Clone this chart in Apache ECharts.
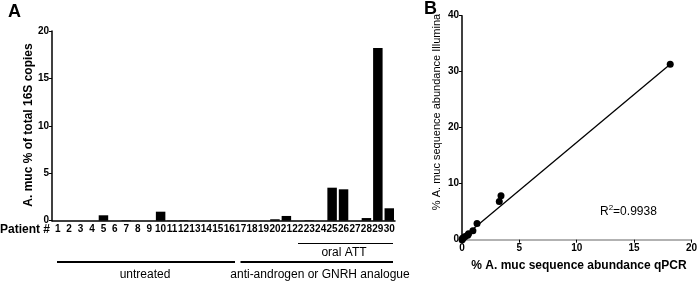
<!DOCTYPE html>
<html><head><meta charset="utf-8">
<script src="https://cdn.jsdelivr.net/npm/echarts@6/dist/echarts.min.js"></script>
<style>html,body{margin:0;padding:0;background:#fff}#c{width:700px;height:284px}</style>
</head><body><div id="c"></div>
<script>
const patients = ['1','2','3','4','5','6','7','8','9','10','11','12','13','14','15','16','17','18','19','20','21','22','23','24','25','26','27','28','29','30'];
const amucPct = [0,0,0,0,0.57,0,0.05,0,0,0.95,0.03,0.05,0,0,0,0,0,0,0,0.15,0.5,0,0.05,0,3.48,3.31,0,0.28,18.2,1.31];
const yTicksA = [0,5,10,15,20];
const qpcr     = [0,0.03,0.05,0.15,0.28,0.5,0.57,0.95,1.31,3.25,3.4,18.15];
const illumina = [0,0.1,0.25,0.4,0.55,0.8,1.05,1.6,2.9,6.8,7.85,31.35];
const fitLine  = [[0,0.25],[18.15,31.35]];
const FONT = '"Liberation Sans", Arial, sans-serif';

const chart = echarts.init(document.getElementById('c'), null, {renderer:'canvas'});
const lbl = {fontFamily: FONT, fontWeight:'bold', fontSize:10, color:'#000'};
chart.setOption({
  animation:false,
  backgroundColor:'#fff',
  grid:[
    {left:52, top:31, width:343, height:189.7},
    {left:462, top:15.7, width:230.3, height:224}
  ],
  xAxis:[
    {gridIndex:0, type:'category', data:patients, boundaryGap:true,
     axisLine:{lineStyle:{color:'#000', width:1.5}},
     axisTick:{alignWithLabel:true, length:4, lineStyle:{color:'#000', width:1}},
     axisLabel:Object.assign({interval:0, margin:4}, lbl)},
    {gridIndex:1, type:'value', min:0, max:20, interval:5,
     axisLine:{lineStyle:{color:'#999', width:1.5}},
     axisTick:{length:3, lineStyle:{color:'#000'}},
     axisLabel:Object.assign({margin:4}, lbl),
     splitLine:{show:false}}
  ],
  yAxis:[
    {gridIndex:0, type:'value', min:yTicksA[0], max:yTicksA[yTicksA.length-1], interval:5,
     axisLine:{show:true, lineStyle:{color:'#000', width:1.5}},
     axisTick:{show:true, length:3, lineStyle:{color:'#000'}},
     axisLabel:Object.assign({margin:3}, lbl),
     splitLine:{show:false}},
    {gridIndex:1, type:'value', min:0, max:40, interval:10,
     axisLine:{show:true, lineStyle:{color:'#000', width:1.5}},
     axisTick:{show:true, length:3, lineStyle:{color:'#000'}},
     axisLabel:Object.assign({margin:3}, lbl),
     splitLine:{show:false}}
  ],
  series:[
    {type:'bar', xAxisIndex:0, yAxisIndex:0, data:amucPct, barWidth:'83%',
     itemStyle:{color:'#000'}},
    {type:'line', xAxisIndex:1, yAxisIndex:1, data:fitLine, symbol:'none',
     lineStyle:{color:'#000', width:1.3}, z:2},
    {type:'scatter', xAxisIndex:1, yAxisIndex:1, clip:false,
     data:qpcr.map((x,i)=>[x, illumina[i]]), symbolSize:7,
     itemStyle:{color:'#000', opacity:1}, z:3}
  ],
  graphic:[
    {type:'text', left:8, top:3, style:{text:'A', font:'bold 18px '+FONT, fill:'#000'}},
    {type:'text', left:424, top:0, style:{text:'B', font:'bold 18px '+FONT, fill:'#000'}},
    {type:'text', x:29, y:125, rotation:Math.PI/2,
     style:{text:'A. muc % of total 16S copies', font:'bold 12px '+FONT, fill:'#000', align:'center', verticalAlign:'middle'}},
    {type:'text', x:50, y:230, style:{text:'Patient #', font:'bold 12px '+FONT, fill:'#000', align:'right', verticalAlign:'middle'}},
    {type:'line', shape:{x1:298, y1:243.5, x2:393, y2:243.5}, style:{stroke:'#000', lineWidth:1}},
    {type:'text', x:344, y:253, style:{text:'oral ATT', font:'12px '+FONT, fill:'#000', align:'center', verticalAlign:'middle'}},
    {type:'line', shape:{x1:57, y1:262, x2:235, y2:262}, style:{stroke:'#000', lineWidth:2}},
    {type:'line', shape:{x1:240.5, y1:262, x2:393, y2:262}, style:{stroke:'#000', lineWidth:2}},
    {type:'text', x:145, y:275, style:{text:'untreated', font:'12px '+FONT, fill:'#000', align:'center', verticalAlign:'middle'}},
    {type:'text', x:320, y:275, style:{text:'anti-androgen or GNRH analogue', font:'12px '+FONT, fill:'#000', align:'center', verticalAlign:'middle'}},
    {type:'text', x:437, y:112, rotation:Math.PI/2,
     style:{text:'% A. muc sequence abundance Illumina', font:'11px '+FONT, fill:'#000', align:'center', verticalAlign:'middle'}},
    {type:'text', x:579, y:266, style:{text:'% A. muc sequence abundance qPCR', font:'bold 12px '+FONT, fill:'#000', align:'center', verticalAlign:'middle'}},
    {type:'text', x:600, y:211, style:{
      text:'{r|R}{s|2}{r|=0.9938}', verticalAlign:'middle',
      rich:{r:{font:'12px '+FONT, fill:'#000', verticalAlign:'bottom'}, s:{font:'8px '+FONT, fill:'#000', verticalAlign:'top', padding:[0,0,6,0]}}}}
  ]
});
</script></body></html>
